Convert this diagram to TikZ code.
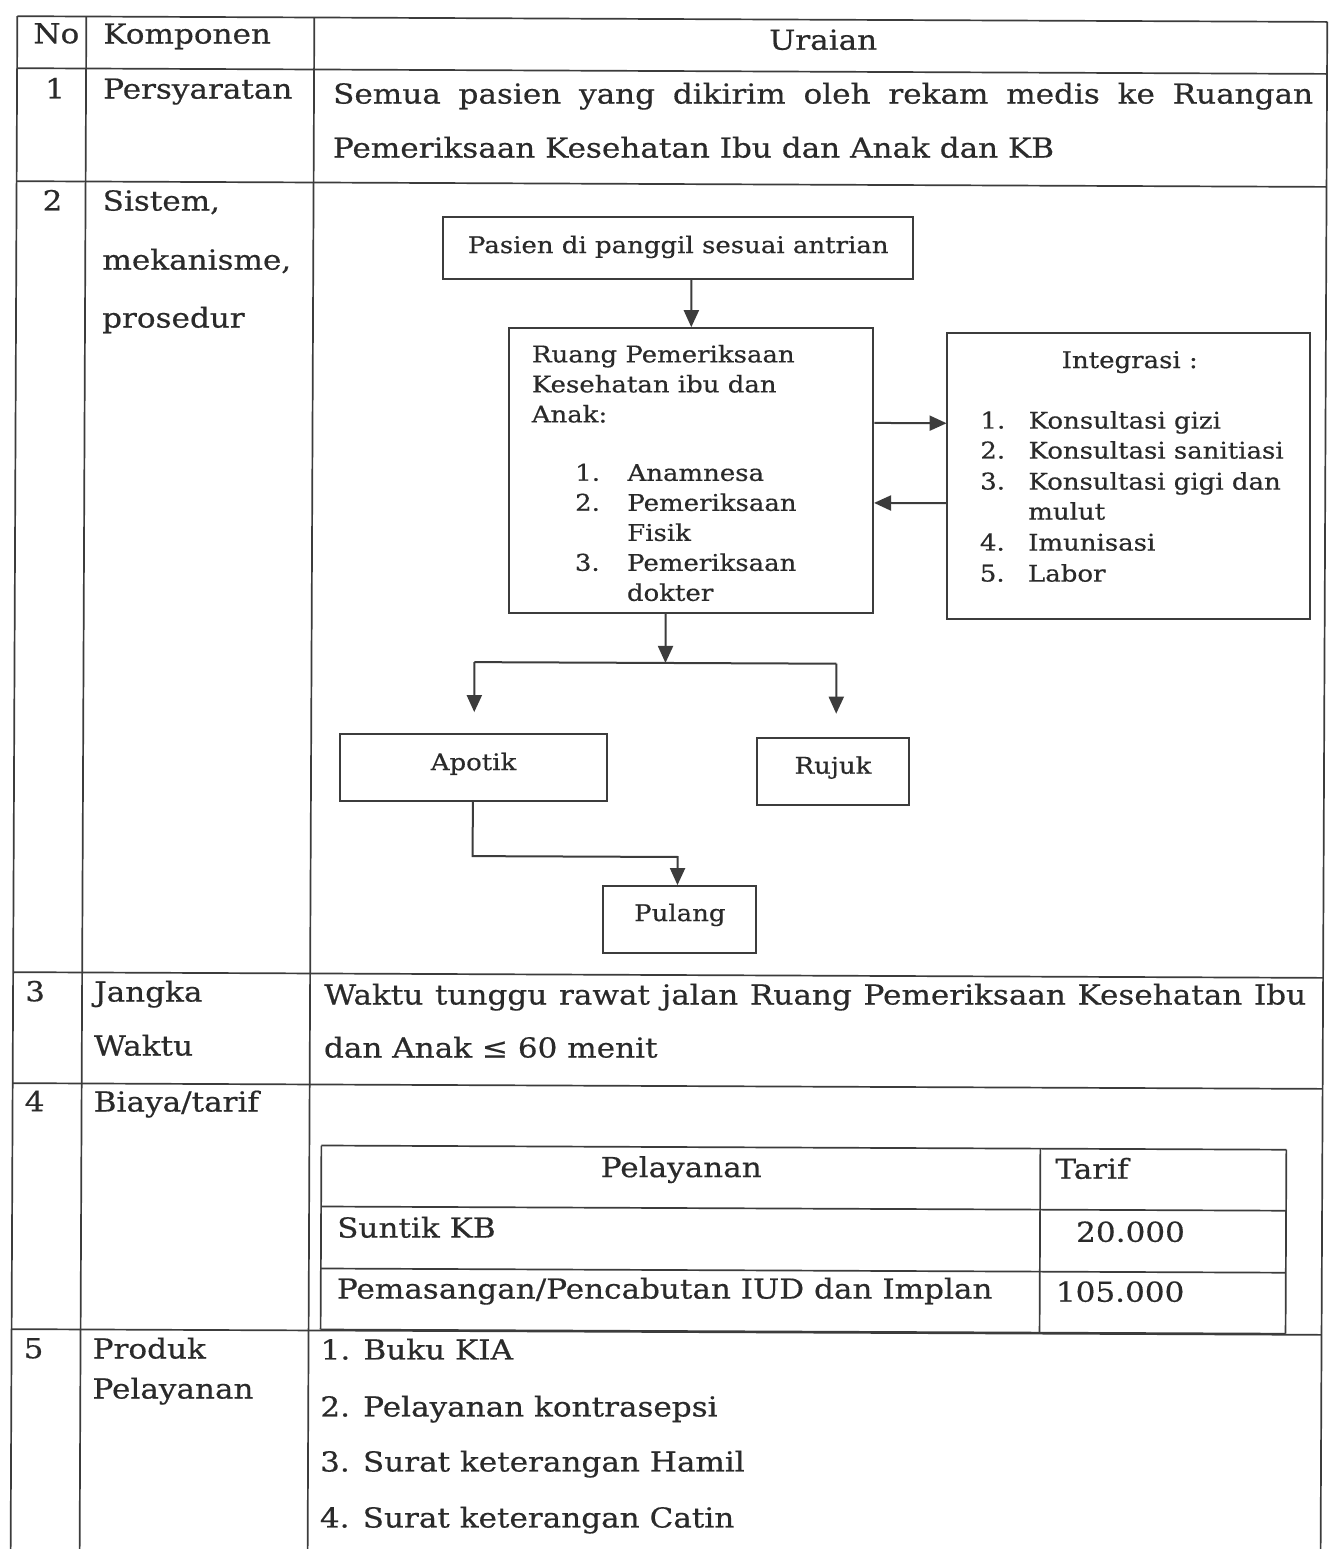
\documentclass[tikz,border=0pt]{standalone}
\usepackage{fontspec}
\setmainfont{DejaVu Serif}[FakeStretch=1.13,FakeBold=0.5]
\usetikzlibrary{arrows.meta}
\definecolor{ink}{HTML}{2A2A2A}
\definecolor{rulecol}{HTML}{3C3C3C}
\newcommand{\bigtxt}{\fontsize{27.5}{30}\selectfont}
\newcommand{\flowtxt}{\fontsize{23}{26}\selectfont}
\begin{document}
\begin{tikzpicture}[x=1pt,y=-1pt,
  rule/.style={draw=rulecol, line width=1.7pt},
  cell/.style={anchor=base west, inner sep=0pt, text=ink, font=\bigtxt},
  ccell/.style={cell, anchor=base},
  ftxt/.style={anchor=base west, inner sep=0pt, text=ink, font=\flowtxt},
  fnum/.style={ftxt, anchor=base east},
  fbox/.style={draw=rulecol, line width=1.8pt, inner sep=0pt, text=ink, font=\flowtxt},
  link/.style={draw=rulecol, line width=2pt},
  flow/.style={link, -{Triangle[length=17pt,width=15pt]}}
]
\useasboundingbox (0,0) rectangle (1331,1549);
\fill[white] (0,0) rectangle (1331,1549);

\begin{scope}[rotate around={-0.25:(665,775)}]
% ---------------- outer table grid ----------------
\draw[rule] (14,19) -- (1324,19);
\draw[rule] (14,71) -- (1324,71);
\draw[rule] (14,184) -- (1324,184);
\draw[rule] (14,975) -- (1324,975);
\draw[rule] (14,1086) -- (1324,1086);
\draw[rule] (14,1332) -- (1324,1332);
\draw[rule] (14,19) -- (14,1560);
\draw[rule] (83,19) -- (83,1560);
\draw[rule] (311,19) -- (311,1560);
\draw[rule] (1324,19) -- (1324,1560);

% ---------------- header ----------------
\node[cell] (hno) at (30,46) {No};
\node[cell] (hkomp) at (100,46) {Komponen};
\node[ccell] (hura) at (820,49) {Uraian};

% ---------------- row 1 ----------------
\node[cell] (n1) at (42,101) {1};
\node[cell] (k1) at (100,101) {Persyaratan};
\node[cell] (u1a) at (330,105) {\makebox[980pt][s]{Semua pasien yang dikirim oleh rekam medis ke Ruangan}};
\node[cell] (u1b) at (330,159) {Pemeriksaan Kesehatan Ibu dan Anak dan KB};

% ---------------- row 2 ----------------
\node[cell] (n2) at (40,213) {2};
\node[cell] (k2a) at (100,213) {Sistem,};
\node[cell] (k2b) at (100,272) {mekanisme,};
\node[cell] (k2c) at (100,330) {prosedur};

% flowchart boxes
\node[fbox, minimum width=470pt, minimum height=62pt, text height=18pt, text depth=8pt]
  (pasien) at (676,248) {Pasien di panggil sesuai antrian};
\node[fbox, minimum width=364pt, minimum height=285pt] (ruang) at (690,470.5) {};
\node[fbox, minimum width=363pt, minimum height=286pt] (integ) at (1127.5,474) {};
\node[fbox, minimum width=267pt, minimum height=67pt, text height=18pt, text depth=13pt]
  (apotik) at (473.5,768.5) {Apotik};
\node[fbox, minimum width=152pt, minimum height=67pt, text height=18pt, text depth=13pt]
  (rujuk) at (833,770.5) {Rujuk};
\node[fbox, minimum width=153pt, minimum height=67pt, text height=18pt, text depth=15pt]
  (pulang) at (680.5,919.5) {Pulang};

% text inside the examination room box
\node[ftxt] (rt1) at (530,363) {Ruang Pemeriksaan};
\node[ftxt] (rt2) at (530,393) {Kesehatan ibu dan};
\node[ftxt] (rt3) at (530,423) {Anak:};
\node[fnum] (rn1) at (599,481) {1.};
\node[ftxt] (ri1) at (626,481) {Anamnesa};
\node[fnum] (rn2) at (599,511) {2.};
\node[ftxt] (ri2) at (626,511) {Pemeriksaan};
\node[ftxt] (ri2b) at (626,541) {Fisik};
\node[fnum] (rn3) at (599,571) {3.};
\node[ftxt] (ri3) at (626,571) {Pemeriksaan};
\begin{scope}
  \clip (512,560) rectangle (868,603);
  \node[ftxt] (ri3b) at (626,601) {dokter};
\end{scope}

% text inside the integration box
\node[ftxt, anchor=base] (it0) at (1128,366) {Integrasi :};
\node[fnum] (in1) at (1004,427) {1.};
\node[ftxt] (ii1) at (1027,427) {Konsultasi gizi};
\node[fnum] (in2) at (1004,457) {2.};
\node[ftxt] (ii2) at (1027,457) {Konsultasi sanitiasi};
\node[fnum] (in3) at (1004,488) {3.};
\node[ftxt] (ii3) at (1027,488) {Konsultasi gigi dan};
\node[ftxt] (ii3b) at (1027,518) {mulut};
\node[fnum] (in4) at (1004,549) {4.};
\node[ftxt] (ii4) at (1027,549) {Imunisasi};
\node[fnum] (in5) at (1004,580) {5.};
\node[ftxt] (ii5) at (1027,580) {Labor};

% connectors
\draw[flow] (pasien.south -| ruang.north) -- (ruang.north);
\draw[flow] (ruang.east |- 0,422) -- (integ.west |- 0,422);
\draw[flow] (integ.west |- 0,502) -- (ruang.east |- 0,502);

\coordinate (split) at (665,663);
\coordinate (leftend) at (474,663);
\coordinate (rightend) at (836,663);
\coordinate (apotikin) at (474,713);
\coordinate (rujukin) at (836,713);
\draw[flow] (ruang.south -| split) -- (split);
\draw[link] (leftend) -- (rightend);
\draw[flow] (leftend) -- (apotikin);
\draw[flow] (rightend) -- (rujukin);

\coordinate (bendA) at (473,857);
\coordinate (bendB) at (678,857);
\draw[flow] (apotik.south -| bendA) -- (bendA) -- (bendB) -- (pulang.north -| bendB);

% ---------------- row 3 ----------------
\node[cell] (n3) at (26,1004) {3};
\node[cell] (k3a) at (95,1004) {Jangka};
\node[cell] (k3b) at (95,1058) {Waktu};
\node[cell] (u3a) at (325,1006) {\makebox[982pt][s]{Waktu tunggu rawat jalan Ruang Pemeriksaan Kesehatan Ibu}};
\node[cell] (u3b) at (325,1059) {dan Anak ≤ 60 menit};

% ---------------- row 4 ----------------
\node[cell] (n4) at (26,1114) {4};
\node[cell] (k4) at (95,1114) {Biaya/tarif};

% tariff table
\draw[rule] (323,1147) -- (1288,1147);
\draw[rule] (323,1208) -- (1288,1208);
\draw[rule] (323,1270) -- (1288,1270);
\draw[rule] (323,1331) -- (1288,1331);
\draw[rule] (323,1147) -- (323,1331);
\draw[rule] (1042,1147) -- (1042,1331);
\draw[rule] (1288,1147) -- (1288,1331);
\node[ccell] (tp) at (683,1177) {Pelayanan};
\node[cell] (tt) at (1057,1177) {Tarif};
\node[cell] (ts) at (339,1239) {Suntik KB};
\node[cell] (tsv) at (1078,1240) {20.000};
\node[cell] (tm) at (339,1300) {Pemasangan/Pencabutan IUD dan Implan};
\node[cell] (tmv) at (1058,1300) {105.000};

% ---------------- row 5 ----------------
\node[cell] (n5) at (26,1361) {5};
\node[cell] (k5a) at (95,1361) {Produk};
\node[cell] (k5b) at (95,1401) {Pelayanan};
\node[cell] (p1) at (323,1361) {1. Buku KIA};
\node[cell] (p2) at (323,1418) {2. Pelayanan kontrasepsi};
\node[cell] (p3) at (323,1473) {3. Surat keterangan Hamil};
\node[cell] (p4) at (323,1529) {4. Surat keterangan Catin};
\end{scope}
\end{tikzpicture}
\end{document}
